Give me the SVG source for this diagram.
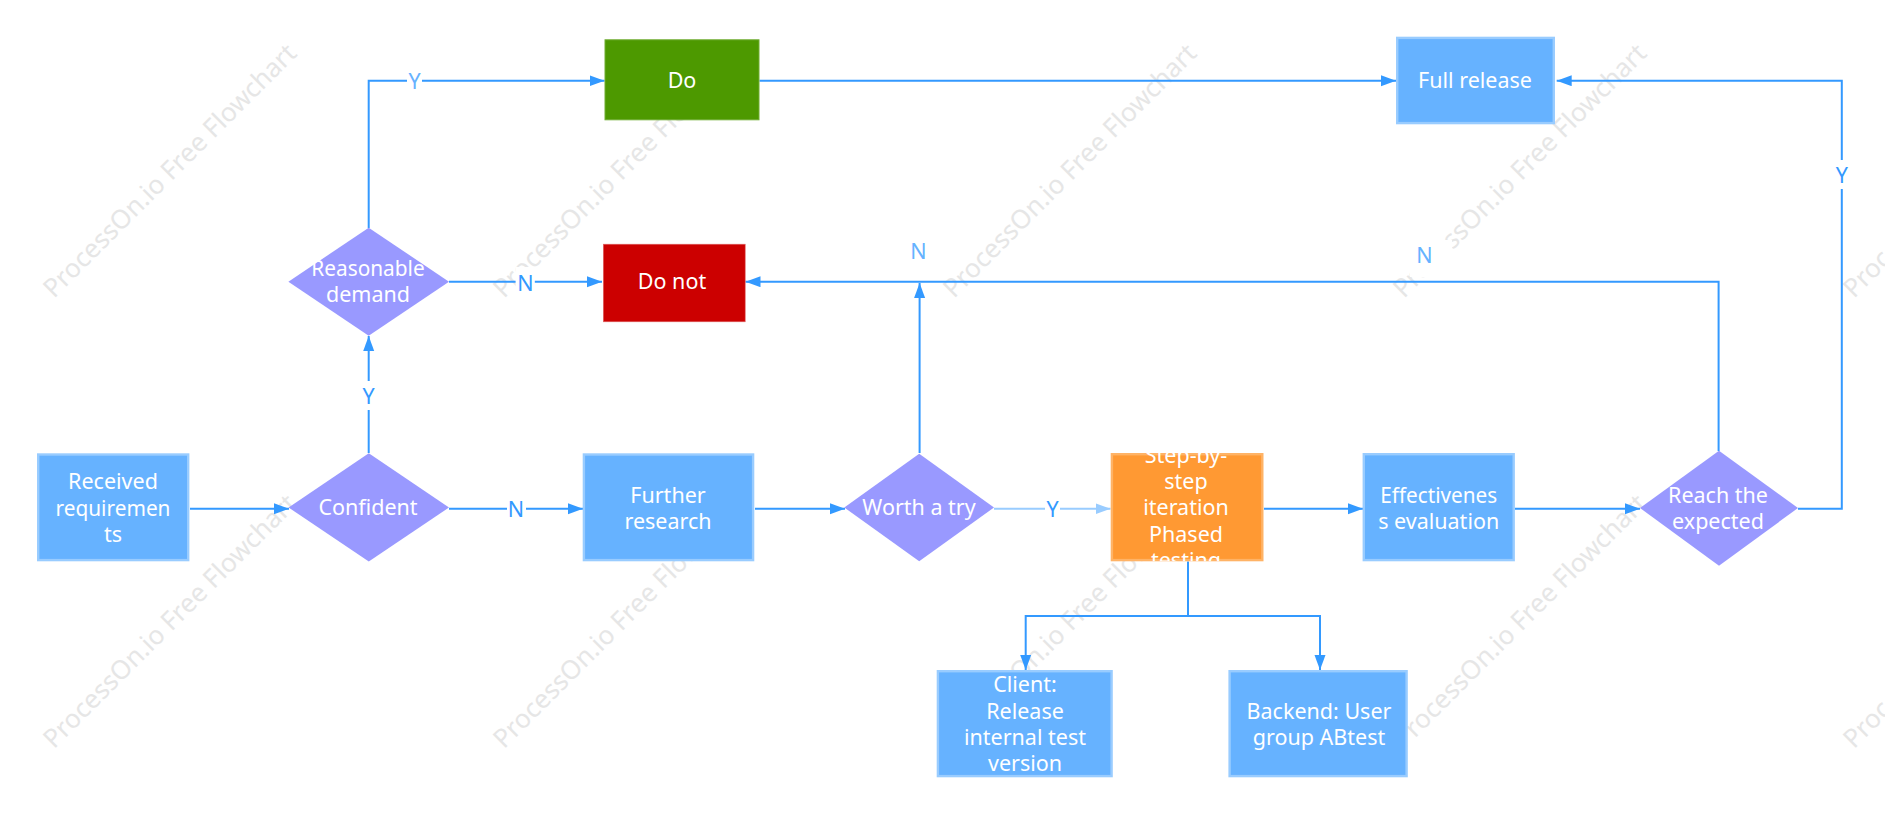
<svg xmlns="http://www.w3.org/2000/svg" width="1885" height="813" viewBox="0 0 1885 813">
<style>
text{font-family:"Noto Sans","Open Sans","Liberation Sans",sans-serif;font-size:21.5px;text-anchor:middle}
.n text{fill:#fff}
.wm{font-size:26px;fill:#e6e6e6;text-anchor:start}
.box{fill:#66b2ff;stroke:#99ccff;stroke-width:2.4}
.dia{fill:#9999ff}
.c{fill:none;stroke:#3399ff;stroke-width:2}
.l{fill:none;stroke:#99ccff;stroke-width:2}
.lab{fill:#3399ff}
.lab2{fill:#66b2ff}
.bg{fill:#fff}
</style>
<defs>
<marker id="a" markerUnits="userSpaceOnUse" markerWidth="16" markerHeight="12" refX="15" refY="5.5" orient="auto"><path d="M0 0L15 5.5L0 11z" fill="#3399ff"/></marker>
<marker id="b" markerUnits="userSpaceOnUse" markerWidth="16" markerHeight="12" refX="15" refY="5.5" orient="auto"><path d="M0 0L15 5.5L0 11z" fill="#99ccff"/></marker>
<clipPath id="oc"><rect x="1110.7" y="453" width="153" height="108.3"/></clipPath>
</defs>
<rect width="1885" height="813" fill="#fff"/>
<g id="watermark">
<text class="wm" transform="translate(54 299) rotate(-45)">ProcessOn.io Free Flowchart</text>
<text class="wm" transform="translate(504 299) rotate(-45)">ProcessOn.io Free Flowchart</text>
<text class="wm" transform="translate(954 299) rotate(-45)">ProcessOn.io Free Flowchart</text>
<text class="wm" transform="translate(1404 299) rotate(-45)">ProcessOn.io Free Flowchart</text>
<text class="wm" transform="translate(1854 299) rotate(-45)">ProcessOn.io Free Flowchart</text>
<text class="wm" transform="translate(54 749.5) rotate(-45)">ProcessOn.io Free Flowchart</text>
<text class="wm" transform="translate(504 749.5) rotate(-45)">ProcessOn.io Free Flowchart</text>
<text class="wm" transform="translate(954 749.5) rotate(-45)">ProcessOn.io Free Flowchart</text>
<text class="wm" transform="translate(1404 749.5) rotate(-45)">ProcessOn.io Free Flowchart</text>
<text class="wm" transform="translate(1854 749.5) rotate(-45)">ProcessOn.io Free Flowchart</text>
</g>
<g id="connectors">
<path class="c" marker-end="url(#a)" d="M190 508.7H289"/>
<path class="c" marker-end="url(#a)" d="M449 508.7H583"/>
<path class="c" marker-end="url(#a)" d="M755 508.7H845"/>
<path class="l" marker-end="url(#b)" d="M994 508.7H1110.5"/>
<path class="c" marker-end="url(#a)" d="M1264 508.7H1363"/>
<path class="c" marker-end="url(#a)" d="M1515 508.7H1640"/>
<path class="c" marker-end="url(#a)" d="M368.7 453V336"/>
<path class="c" marker-end="url(#a)" d="M368.7 228V80.7H604.5"/>
<path class="c" marker-end="url(#a)" d="M449 281.7H602"/>
<path class="c" marker-end="url(#a)" d="M919.6 453V283"/>
<path class="c" marker-end="url(#a)" d="M1718.6 451V281.7H745.5"/>
<path class="c" marker-end="url(#a)" d="M759.5 80.7H1396"/>
<path class="c" marker-end="url(#a)" d="M1798 508.7H1841.8V80.7H1556.7"/>
<path class="c" marker-end="url(#a)" d="M1188 561.5V616H1025.7V670"/>
<path class="c" marker-end="url(#a)" d="M1188 616H1320V670"/>
<rect class="bg" x="407" y="67" width="15" height="29"/>
<text class="lab2" x="414.5" y="89">Y</text>
<rect class="bg" x="515.6" y="267" width="19.2" height="29"/>
<text class="lab" x="525.5" y="290.5">N</text>
<rect class="bg" x="361" y="381" width="15" height="29"/>
<text class="lab" x="368.7" y="403.5">Y</text>
<rect class="bg" x="507" y="494" width="19" height="29"/>
<text class="lab" x="516" y="516.7">N</text>
<rect class="bg" x="1045" y="494" width="15" height="29"/>
<text class="lab" x="1052.7" y="516.5">Y</text>
<rect class="bg" x="1834" y="160" width="15" height="29"/>
<text class="lab" x="1841.8" y="182.5">Y</text>
<rect class="bg" x="905" y="236" width="30" height="29"/>
<text class="lab2" x="918.3" y="258.5">N</text>
<rect class="bg" x="1410" y="240" width="42" height="37"/>
<text class="lab2" x="1424.5" y="263">N</text>
</g>
<g id="received" class="n"><rect class="box" x="38.2" y="454.5" width="150" height="105.6"/><text x="113" y="489">Received</text><text x="113" y="515.5" textLength="115" lengthAdjust="spacingAndGlyphs">requiremen</text><text x="113" y="542">ts</text></g>
<g id="confident" class="n"><path class="dia" d="M288.6 507.5L368.8 453.3L449 507.5L368.8 561.5z"/><text x="368" y="515">Confident</text></g>
<g id="reasonable" class="n"><path class="dia" d="M288.4 281.7L368.7 227.7L449 281.7L368.7 335.7z"/><text x="368" y="275.7" textLength="113.5" lengthAdjust="spacingAndGlyphs">Reasonable</text><text x="368" y="301.7">demand</text></g>
<g id="further" class="n"><rect class="box" x="583.9" y="454.5" width="169.2" height="105.6"/><text x="668" y="503.3">Further</text><text x="668" y="529.3">research</text></g>
<g id="worth" class="n"><path class="dia" d="M844.3 507.5L919.2 453.7L994 507.5L919.2 561.3z"/><text x="919" y="515.3">Worth a try</text></g>
<g id="iteration" class="n"><rect x="1111.9" y="454.2" width="150.4" height="105.9" fill="#ff9933" stroke="#ffb366" stroke-width="2.4"/><g clip-path="url(#oc)"><text x="1186" y="462.7">Step-by-</text><text x="1186" y="488.5">step</text><text x="1186" y="515">iteration</text><text x="1186" y="541.7">Phased</text><text x="1186" y="568">testing</text></g></g>
<g id="effectiveness" class="n"><rect class="box" x="1363.8" y="454.2" width="149.9" height="105.9"/><text x="1438.7" y="503" textLength="117" lengthAdjust="spacingAndGlyphs">Effectivenes</text><text x="1438.7" y="529">s evaluation</text></g>
<g id="reach" class="n"><path class="dia" d="M1640 508L1719 450.7L1798 508L1719 565.7z"/><text x="1718" y="503">Reach the</text><text x="1718" y="529">expected</text></g>
<g id="client" class="n"><rect class="box" x="937.9" y="671.2" width="173.7" height="104.9"/><text x="1025" y="692">Client:</text><text x="1025" y="719">Release</text><text x="1025" y="745">internal test</text><text x="1025" y="771">version</text></g>
<g id="backend" class="n"><rect class="box" x="1229.6" y="671.2" width="177" height="104.9"/><text x="1319" y="719">Backend: User</text><text x="1319" y="745">group ABtest</text></g>
<g id="do" class="n"><rect x="605" y="39.8" width="154" height="80" fill="#4d9900" stroke="#70ad33" stroke-width="1"/><text x="682" y="88">Do</text></g>
<g id="donot" class="n"><rect x="603.3" y="244.2" width="141.9" height="77.6" fill="#cc0000" stroke="#e06666" stroke-width=".6"/><text x="672" y="288.7">Do not</text></g>
<g id="full" class="n"><rect class="box" x="1397.2" y="37.9" width="156.6" height="85.2"/><text x="1475" y="88">Full release</text></g>
</svg>
